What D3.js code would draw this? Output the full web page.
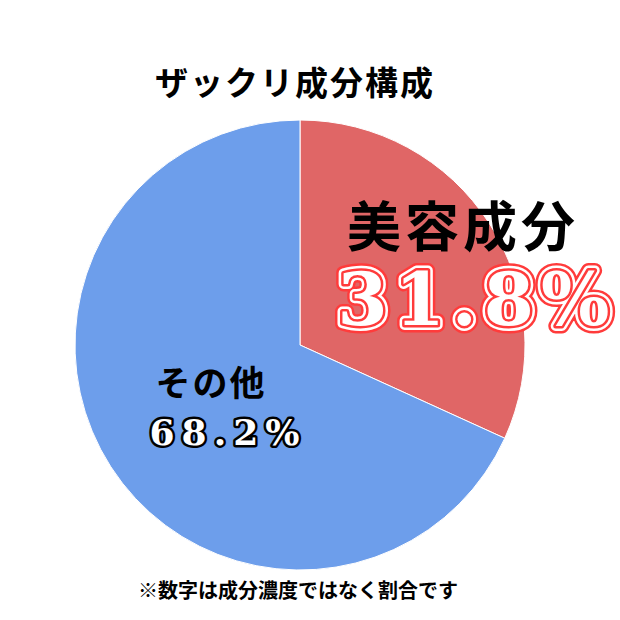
<!DOCTYPE html><html><head><meta charset="utf-8"><script src="https://cdn.jsdelivr.net/npm/d3@7"></script>
<style>body{margin:0;background:#fff}</style></head><body><svg id="c" width="620" height="620"></svg>
<script>
const categories=["美容成分","その他"];
const values=[31.8,68.2];
const colors=["#e06666","#6d9eeb"];
const title="ザックリ成分構成";
const note="※数字は成分濃度ではなく割合です";
const svg=d3.select("#c");
const cx=300,cy=345,r=225;
const pie=d3.pie().sort(null)(values);
const arc=d3.arc().innerRadius(0).outerRadius(r);
svg.append("g").attr("transform",`translate(${cx},${cy})`).selectAll("path").data(pie).join("path")
 .attr("d",arc).attr("fill",(d,i)=>colors[i]).attr("stroke","#fff").attr("stroke-width",1);
const jp="'Noto Sans CJK JP',sans-serif";
svg.append("text").attr("x",295).attr("y",95).attr("text-anchor","middle").attr("font-family",jp).attr("font-weight","bold").attr("font-size",33).attr("letter-spacing",2).text(title);
svg.append("text").attr("x",463).attr("y",247).attr("text-anchor","middle").attr("font-family",jp).attr("font-weight","bold").attr("font-size",54).attr("letter-spacing",4).text(categories[0]);
const serif="'DejaVu Serif',serif";
[[15,"#ff3b3b"],[10,"#fff"],[5,"#ff3b3b"]].forEach(([w,c])=>{
 svg.append("text").attr("x",477).attr("y",325).attr("text-anchor","middle").attr("font-family",serif).attr("font-weight","bold").attr("font-size",72).attr("letter-spacing",7)
 .attr("fill","#fff").attr("stroke",c).attr("stroke-width",w).attr("stroke-linejoin","round").text(values[0]+"%");
});
svg.append("text").attr("x",477).attr("y",325).attr("text-anchor","middle").attr("font-family",serif).attr("font-weight","bold").attr("font-size",72).attr("letter-spacing",7).attr("fill","#fff").text(values[0]+"%");
svg.append("text").attr("x",211).attr("y",396).attr("text-anchor","middle").attr("font-family",jp).attr("font-weight","bold").attr("font-size",35).attr("letter-spacing",2).text(categories[1]);
svg.append("text").attr("x",228).attr("y",445).attr("text-anchor","middle").attr("font-family",serif).attr("font-weight","bold").attr("font-size",36).attr("letter-spacing",7)
 .attr("fill","#fff").attr("stroke","#000").attr("stroke-width",5).attr("paint-order","stroke").attr("stroke-linejoin","round").text(values[1]+"%");
svg.append("text").attr("x",298).attr("y",598).attr("text-anchor","middle").attr("font-family",jp).attr("font-weight","bold").attr("font-size",20).text(note);
</script></body></html>
